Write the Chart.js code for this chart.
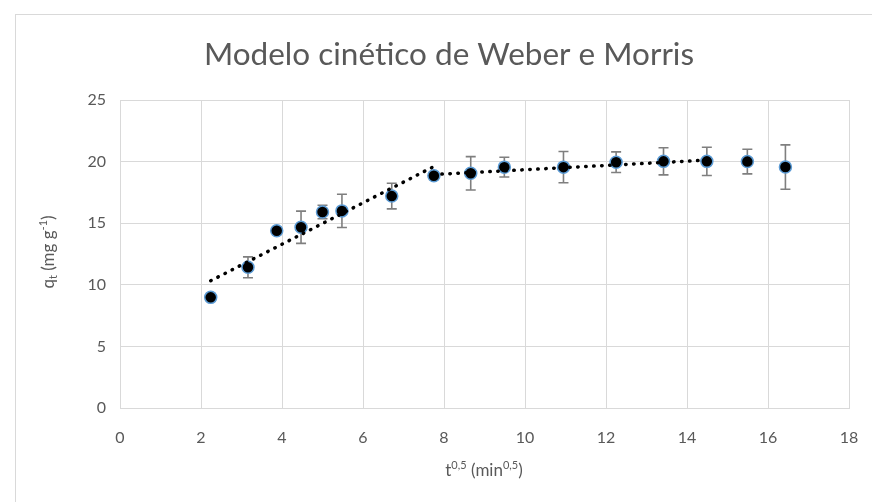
<!DOCTYPE html>
<html>
<head>
<meta charset="utf-8">
<script src="https://cdn.jsdelivr.net/npm/chart.js@4.4.1/dist/chart.umd.min.js"></script>
<style>
  html, body { margin: 0; padding: 0; background: #ffffff; }
  #wrap { position: relative; width: 872px; height: 502px; }
</style>
</head>
<body>
<div id="wrap"><canvas id="chart" width="872" height="502"></canvas></div>
<script>
// Square root of contact time (min^0.5)
const tSqrt = [2.24, 3.16, 3.87, 4.47, 5.00, 5.48, 6.71, 7.75, 8.66, 9.49, 10.95, 12.25, 13.42, 14.49, 15.49, 16.43];
// Adsorbed amount q_t (mg g^-1) and its standard deviation
const qt    = [8.98, 11.42, 14.39, 14.67, 15.91, 16.00, 17.20, 18.85, 19.05, 19.55, 19.55, 19.95, 20.02, 20.02, 20.00, 19.56];
const qtErr = [0.30, 0.85, 0.20, 1.31, 0.55, 1.35, 1.04, 0.30, 1.35, 0.80, 1.27, 0.84, 1.10, 1.15, 1.00, 1.80];

// Linear fits for the two diffusion stages (end points)
const fit1X = [2.24, 7.75];
const fit1Y = [10.33, 19.60];
const fit2X = [7.75, 14.49];
const fit2Y = [18.95, 20.12];

// Axis tick values
const xTicks = [0, 2, 4, 6, 8, 10, 12, 14, 16, 18];
const yTicks = [0, 5, 10, 15, 20, 25];

const chartTitle = 'Modelo cinético de Weber e Morris';
const FONT = 'Lato, "Open Sans", sans-serif';
const TEXT = '#595959';
const GRID = '#d9d9d9';

const points = tSqrt.map((x, i) => ({ x: x, y: qt[i] }));
const line1 = fit1X.map((x, i) => ({ x: x, y: fit1Y[i] }));
const line2 = fit2X.map((x, i) => ({ x: x, y: fit2Y[i] }));

// Draws a run of text pieces with sub/superscripts, centred on (cx, cy)
function drawRich(ctx, parts, cx, cy, size, rotate) {
  ctx.save();
  ctx.translate(cx, cy);
  if (rotate) ctx.rotate(-Math.PI / 2);
  ctx.fillStyle = TEXT;
  ctx.textBaseline = 'alphabetic';
  ctx.textAlign = 'left';
  const small = Math.round(size * 0.65);
  let total = 0;
  parts.forEach(p => {
    ctx.font = (p.sub || p.sup ? small : size) + 'px ' + FONT;
    p.w = ctx.measureText(p.t).width;
    total += p.w;
  });
  let x = -total / 2;
  const base = size * 0.35;
  parts.forEach(p => {
    ctx.font = (p.sub || p.sup ? small : size) + 'px ' + FONT;
    let y = base;
    if (p.sup) y = base - size * 0.38;
    if (p.sub) y = base + size * 0.18;
    ctx.fillText(p.t, x, y);
    x += p.w;
  });
  ctx.restore();
}

const decorPlugin = {
  id: 'decor',
  beforeDraw(chart) {
    const ctx = chart.ctx;
    ctx.save();
    ctx.fillStyle = '#ffffff';
    ctx.fillRect(0, 0, chart.width, chart.height);
    ctx.strokeStyle = GRID;
    ctx.lineWidth = 1;
    ctx.strokeRect(15.5, 14.5, 1000, 1000);
    ctx.restore();
  },
  beforeDatasetsDraw(chart) {
    const ctx = chart.ctx;
    const xs = chart.scales.x, ys = chart.scales.y;
    // error bars, drawn beneath the markers
    ctx.save();
    ctx.strokeStyle = '#7f7f7f';
    ctx.lineWidth = 1.6;
    tSqrt.forEach((x, i) => {
      const px = xs.getPixelForValue(x);
      const top = ys.getPixelForValue(qt[i] + qtErr[i]);
      const bot = ys.getPixelForValue(qt[i] - qtErr[i]);
      ctx.beginPath();
      ctx.moveTo(px, top); ctx.lineTo(px, bot);
      ctx.moveTo(px - 5, top); ctx.lineTo(px + 5, top);
      ctx.moveTo(px - 5, bot); ctx.lineTo(px + 5, bot);
      ctx.stroke();
    });
    ctx.restore();
  },
  afterDraw(chart) {
    const ctx = chart.ctx;
    ctx.save();
    ctx.fillStyle = TEXT;
    ctx.font = '31.5px ' + FONT;
    ctx.textAlign = 'center';
    ctx.textBaseline = 'middle';
    ctx.fillText(chartTitle, 449, 55);
    ctx.restore();
    drawRich(ctx, [{t: 't'}, {t: '0,5', sup: true}, {t: ' (min'}, {t: '0,5', sup: true}, {t: ')'}], 484, 470, 17, false);
    drawRich(ctx, [{t: 'q'}, {t: 't', sub: true}, {t: ' (mg g'}, {t: '-1', sup: true}, {t: ')'}], 48, 252, 17, true);
  }
};

new Chart(document.getElementById('chart'), {
  type: 'scatter',
  data: {
    datasets: [
      {
        data: points,
        backgroundColor: '#000000',
        borderColor: '#5b9bd5',
        borderWidth: 1.5,
        pointRadius: 6,
        pointHoverRadius: 6,
        order: 1
      },
      {
        type: 'line',
        data: line1,
        borderColor: '#000000',
        borderWidth: 3.5,
        borderDash: [0.5, 7.5],
        borderCapStyle: 'round',
        pointRadius: 0,
        fill: false,
        order: 0
      },
      {
        type: 'line',
        data: line2,
        borderColor: '#000000',
        borderWidth: 3.5,
        borderDash: [0.5, 7.5],
        borderCapStyle: 'round',
        pointRadius: 0,
        fill: false,
        order: 0
      }
    ]
  },
  options: {
    responsive: false,
    animation: false,
    events: [],
    layout: { padding: { left: 0, top: 100, right: 23, bottom: 0 } },
    plugins: {
      legend: { display: false },
      title: { display: false },
      tooltip: { enabled: false }
    },
    scales: {
      x: {
        type: 'linear',
        min: 0, max: 18,
        afterBuildTicks: s => { s.ticks = xTicks.map(v => ({ value: v })); },
        afterFit: s => { s.height = 94; s.paddingLeft = 0; s.paddingRight = 0; },
        grid: { color: GRID, lineWidth: 1, drawTicks: false },
        border: { color: GRID, width: 1 },
        ticks: { padding: 20, color: TEXT, font: { family: FONT, size: 16 } }
      },
      y: {
        type: 'linear',
        min: 0, max: 25,
        afterBuildTicks: s => { s.ticks = yTicks.map(v => ({ value: v })); },
        afterFit: s => { s.width = 120; s.paddingTop = 0; s.paddingBottom = 0; },
        grid: { color: GRID, lineWidth: 1, drawTicks: false },
        border: { color: GRID, width: 1 },
        ticks: { padding: 14, color: TEXT, font: { family: FONT, size: 16 } }
      }
    }
  },
  plugins: [decorPlugin]
});
</script>
</body>
</html>
